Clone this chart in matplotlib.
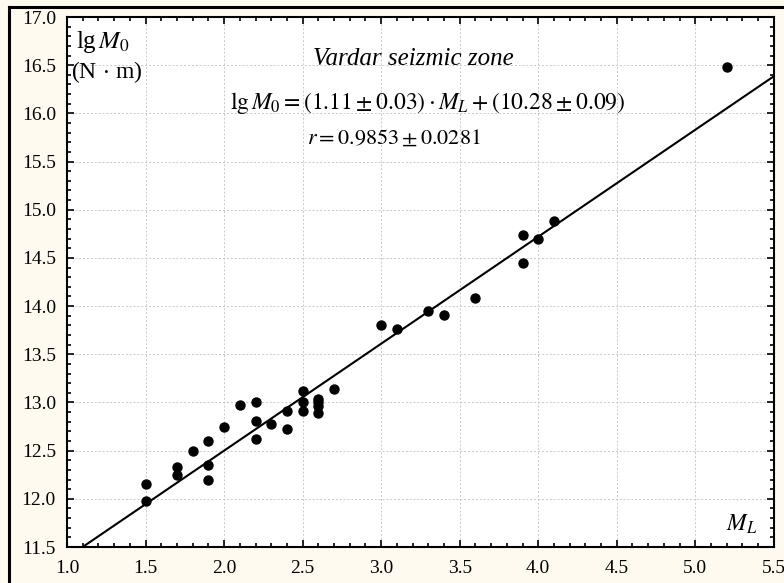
import matplotlib
matplotlib.use('Agg')
import matplotlib.pyplot as plt
from matplotlib.lines import Line2D
from matplotlib.ticker import MultipleLocator, FormatStrFormatter

plt.rcParams['font.family'] = ['Liberation Serif', 'DejaVu Serif']
plt.rcParams['mathtext.fontset'] = 'stix'

# ── Data ──────────────────────────────────────────────────────────
ml = [1.5, 1.5, 1.7, 1.7, 1.8, 1.9, 1.9, 1.9, 2.0, 2.1,
      2.2, 2.2, 2.2, 2.3, 2.4, 2.4, 2.5, 2.5, 2.5,
      2.6, 2.6, 2.6, 2.6, 2.7, 3.0, 3.1, 3.3, 3.4, 3.6,
      3.9, 3.9, 4.0, 4.1, 5.2]
lg_m0 = [12.15, 11.98, 12.33, 12.25, 12.50, 12.60, 12.35, 12.20, 12.75, 12.97,
         13.00, 12.81, 12.62, 12.78, 12.91, 12.73, 13.12, 13.00, 12.91,
         13.04, 13.00, 12.96, 12.89, 13.14, 13.80, 13.76, 13.95, 13.91, 14.08,
         14.74, 14.45, 14.70, 14.88, 16.48]
slope, intercept = 1.11, 10.28
fit_x = [1.0, 5.5]

BG = '#FFFAF0'

fig = plt.figure(figsize=(7.84, 5.83), dpi=100, facecolor=BG)
ax = fig.add_axes([0.0855, 0.0617, 0.9015, 0.9091])
ax.set_facecolor('white')

ax.plot(fit_x, [slope * x + intercept for x in fit_x], color='black', lw=1.5, zorder=3)
ax.scatter(ml, lg_m0, s=42, color='black', zorder=4)

ax.set_xlim(1.0, 5.5)
ax.set_ylim(11.5, 17.0)
ax.xaxis.set_major_locator(MultipleLocator(0.5))
ax.xaxis.set_minor_locator(MultipleLocator(0.1))
ax.yaxis.set_major_locator(MultipleLocator(0.5))
ax.yaxis.set_minor_locator(MultipleLocator(0.1))
ax.xaxis.set_major_formatter(FormatStrFormatter('%.1f'))
ax.yaxis.set_major_formatter(FormatStrFormatter('%.1f'))
ax.tick_params(which='both', direction='in', top=True, right=True, labelsize=14,
               width=1.2)
ax.tick_params(which='major', length=5)
ax.tick_params(which='minor', length=3)
ax.tick_params(axis='x', pad=9)
ax.tick_params(axis='y', pad=8)
for sp in ax.spines.values():
    sp.set_linewidth(1.5)

ax.grid(True, which='major', color='#c8c8c8', linestyle=(0, (2, 2)), lw=0.7)
ax.set_axisbelow(True)

# ── Annotations ───────────────────────────────────────────────────
ax.text(0.012, 0.978, r'lg$\,M_0$', transform=ax.transAxes, fontsize=18,
        ha='left', va='top')
ax.text(0.006, 0.92, r'(N$\,\cdot\,$m)', transform=ax.transAxes, fontsize=17,
        ha='left', va='top')
ax.text(0.49, 0.92, 'Vardar seizmic zone', transform=ax.transAxes, fontsize=18,
        style='italic', ha='center', va='center')
ax.text(0.51, 0.837,
        r'$\mathrm{lg}\,M_0=(1.11\pm0.03)\cdot M_L+(10.28\pm0.09)$',
        transform=ax.transAxes, fontsize=17, ha='center', va='center')
ax.text(0.462, 0.771, r'$r=0.9853\pm0.0281$', transform=ax.transAxes,
        fontsize=16, ha='center', va='center')
ax.text(0.955, 0.042, r'$M_L$', transform=ax.transAxes, fontsize=17,
        ha='center', va='center')

# ── Outer frame (only top and left visible) ───────────────────────
fig.add_artist(Line2D([0.012, 1.0], [0.988, 0.988], color='black', lw=2.2,
                      transform=fig.transFigure))
fig.add_artist(Line2D([0.012, 0.012], [0.0, 0.988], color='black', lw=2.2,
                      transform=fig.transFigure))

plt.savefig('out.png', dpi=100, facecolor=BG)
plt.close()
